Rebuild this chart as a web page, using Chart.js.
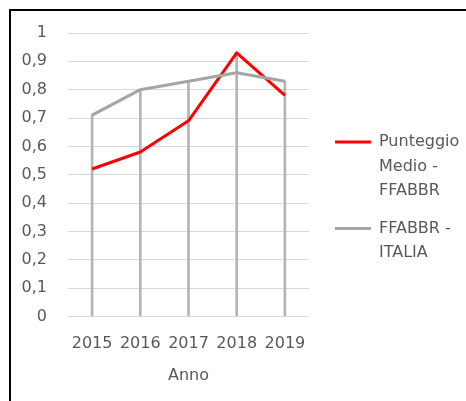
<!DOCTYPE html>
<html>
<head>
<meta charset="utf-8">
<script src="https://cdn.jsdelivr.net/npm/chart.js@4"></script>
<style>
  html, body { margin: 0; padding: 0; background: #fff; overflow: hidden; }
  #wrap { position: relative; width: 466px; height: 401px; }
  #frame {
    position: absolute; left: 9px; top: 9px; width: 600px; height: 600px;
    border-top: 2px solid #000; border-left: 2px solid #000; pointer-events: none;
  }
</style>
</head>
<body>
<div id="wrap">
  <canvas id="chart"></canvas>
  <div id="frame"></div>
</div>
<script>
// dati
const anni = ["2015", "2016", "2017", "2018", "2019"];
const punteggioMedio = [0.52, 0.58, 0.69, 0.93, 0.78];
const italia = [0.71, 0.80, 0.83, 0.86, 0.83];
const nomeSerie1 = ["Punteggio", "Medio -", "FFABBR"];
const nomeSerie2 = ["FFABBR -", "ITALIA"];
const titoloAsseX = "Anno";

const FONT = "'DejaVu Sans', sans-serif";
const TESTO = "#595959";

// linee verticali: dal punto più alto fino a zero
const lineeGoccia = anni.map((_, i) => Math.max(punteggioMedio[i], italia[i]));

const ctx = document.getElementById("chart").getContext("2d");

new Chart(ctx, {
  type: "line",
  data: {
    labels: anni,
    datasets: [
      {
        type: "bar",
        label: "drop",
        data: lineeGoccia,
        backgroundColor: "#b4b4b4",
        barThickness: 2,
        order: 3,
      },
      {
        label: nomeSerie1.join(" "),
        legendLines: nomeSerie1,
        data: punteggioMedio,
        borderColor: "#ff0000",
        borderWidth: 3,
        pointRadius: 0,
        tension: 0,
        borderJoinStyle: "round",
        order: 2,
      },
      {
        label: nomeSerie2.join(" "),
        legendLines: nomeSerie2,
        data: italia,
        borderColor: "#a5a5a5",
        borderWidth: 3,
        pointRadius: 0,
        tension: 0,
        borderJoinStyle: "round",
        order: 1,
      },
    ],
  },
  options: {
    responsive: true,
    maintainAspectRatio: false,
    animation: false,
    layout: { padding: { left: 21, top: 33, right: 0, bottom: 16 } },
    plugins: {
      tooltip: { enabled: false },
      legend: {
        position: "right",
        align: "start",
        maxWidth: 144,
        title: {
          display: true,
          text: "",
          font: { size: 10, lineHeight: 1 },
          padding: { top: 78, bottom: 0 },
        },
        labels: {
          font: { family: FONT, size: 16, lineHeight: 1.53 },
          color: TESTO,
          boxWidth: 36,
          boxHeight: 3,
          padding: 13,
          generateLabels: (chart) =>
            chart.data.datasets
              .map((ds, i) => ({ ds, i }))
              .filter(({ ds }) => ds.type !== "bar")
              .map(({ ds, i }) => ({
                text: ds.legendLines,
                fillStyle: ds.borderColor,
                strokeStyle: ds.borderColor,
                lineWidth: 0,
                fontColor: TESTO,
                datasetIndex: i,
                hidden: false,
              })),
        },
      },
    },
    scales: {
      x: {
        grid: { display: false },
        border: { display: false },
        afterFit: (s) => { s.height = 68.6; },
        ticks: {
          color: TESTO,
          font: { family: FONT, size: 16 },
          padding: 10,
          maxRotation: 0,
        },
        title: {
          display: true,
          text: titoloAsseX,
          color: TESTO,
          font: { family: FONT, size: 16 },
          padding: { top: 13, bottom: 0 },
        },
      },
      y: {
        min: 0,
        max: 1,
        border: { display: false },
        afterFit: (s) => { s.width = 47; },
        grid: { color: "#d9d9d9", lineWidth: 1, drawTicks: false },
        ticks: {
          stepSize: 0.1,
          color: TESTO,
          font: { family: FONT, size: 16 },
          padding: 21,
          callback: (v) => String(Number(v.toFixed(1))).replace(".", ","),
        },
      },
      // spazio vuoto tra grafico e legenda
      spazio: {
        type: "linear",
        position: "right",
        display: true,
        grid: { display: false },
        border: { display: false },
        ticks: { display: false },
        afterFit: (s) => { s.width = 13; },
      },
    },
  },
});
</script>
</body>
</html>
